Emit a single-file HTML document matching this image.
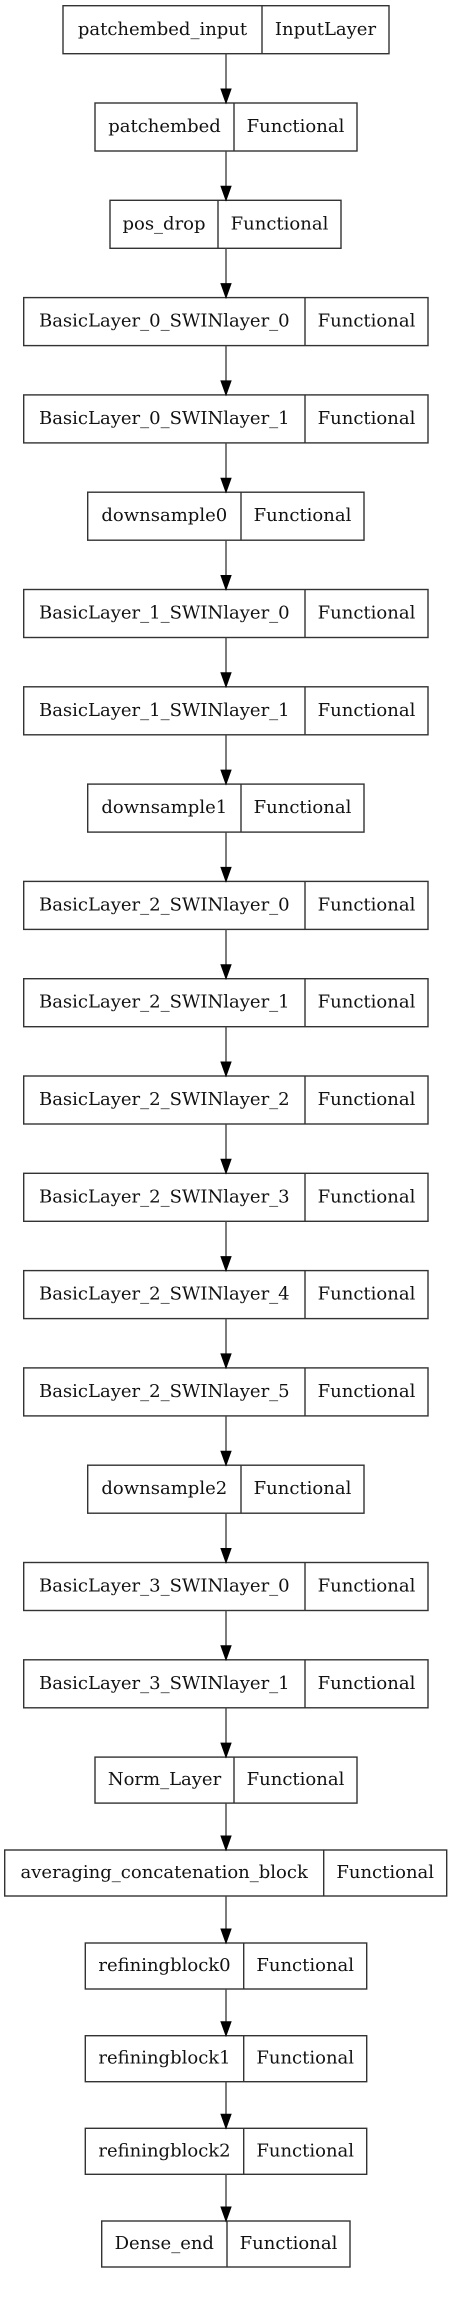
<!DOCTYPE html>
<html><head><meta charset="utf-8"><style>
html,body{margin:0;padding:0;background:#fff;}
svg{display:block;}
text{font-family:"DejaVu Serif","Liberation Serif",serif;font-size:18px;fill:#111;text-anchor:middle;}
rect{fill:#fff;stroke:#333;stroke-width:1.4;}
.d{stroke:#333;stroke-width:1.4;}
.a{stroke:#444;stroke-width:1.4;}
polygon{fill:#000;stroke:#000;stroke-width:1;}
</style></head><body>
<svg width="452" height="2299" viewBox="0 0 452 2299" xmlns="http://www.w3.org/2000/svg">
<g id="boxes">
<rect x="63" y="5.7" width="326" height="48"/><line class="d" x1="262" y1="5.7" x2="262" y2="53.7"/><text x="162.5" y="35">patchembed_input</text><text x="325.5" y="35">InputLayer</text>
<rect x="95" y="103" width="262" height="48"/><line class="d" x1="234" y1="103" x2="234" y2="151"/><text x="164.5" y="132">patchembed</text><text x="295.5" y="132">Functional</text>
<rect x="110" y="200.3" width="231" height="48"/><line class="d" x1="218" y1="200.3" x2="218" y2="248.3"/><text x="164" y="229.3">pos_drop</text><text x="279.5" y="229.3">Functional</text>
<rect x="23.7" y="297.6" width="404.3" height="48"/><line class="d" x1="305" y1="297.6" x2="305" y2="345.6"/><text x="164.3" y="326.6">BasicLayer_0_SWINlayer_0</text><text x="366.5" y="326.6">Functional</text>
<rect x="23.7" y="394.9" width="404.3" height="48"/><line class="d" x1="305" y1="394.9" x2="305" y2="442.9"/><text x="164.3" y="423.9">BasicLayer_0_SWINlayer_1</text><text x="366.5" y="423.9">Functional</text>
<rect x="87.7" y="492.2" width="276.3" height="48"/><line class="d" x1="241" y1="492.2" x2="241" y2="540.2"/><text x="164.3" y="521.2">downsample0</text><text x="302.5" y="521.2">Functional</text>
<rect x="23.7" y="589.5" width="404.3" height="48"/><line class="d" x1="305" y1="589.5" x2="305" y2="637.5"/><text x="164.3" y="618.5">BasicLayer_1_SWINlayer_0</text><text x="366.5" y="618.5">Functional</text>
<rect x="23.7" y="686.8" width="404.3" height="48"/><line class="d" x1="305" y1="686.8" x2="305" y2="734.8"/><text x="164.3" y="715.8">BasicLayer_1_SWINlayer_1</text><text x="366.5" y="715.8">Functional</text>
<rect x="87.7" y="784.1" width="276.3" height="48"/><line class="d" x1="241" y1="784.1" x2="241" y2="832.1"/><text x="164.3" y="813.1">downsample1</text><text x="302.5" y="813.1">Functional</text>
<rect x="23.7" y="881.4" width="404.3" height="48"/><line class="d" x1="305" y1="881.4" x2="305" y2="929.4"/><text x="164.3" y="910.4">BasicLayer_2_SWINlayer_0</text><text x="366.5" y="910.4">Functional</text>
<rect x="23.7" y="978.7" width="404.3" height="48"/><line class="d" x1="305" y1="978.7" x2="305" y2="1026.7"/><text x="164.3" y="1007.7">BasicLayer_2_SWINlayer_1</text><text x="366.5" y="1007.7">Functional</text>
<rect x="23.7" y="1076" width="404.3" height="48"/><line class="d" x1="305" y1="1076" x2="305" y2="1124"/><text x="164.3" y="1105">BasicLayer_2_SWINlayer_2</text><text x="366.5" y="1105">Functional</text>
<rect x="23.7" y="1173.3" width="404.3" height="48"/><line class="d" x1="305" y1="1173.3" x2="305" y2="1221.3"/><text x="164.3" y="1202.3">BasicLayer_2_SWINlayer_3</text><text x="366.5" y="1202.3">Functional</text>
<rect x="23.7" y="1270.6" width="404.3" height="48"/><line class="d" x1="305" y1="1270.6" x2="305" y2="1318.6"/><text x="164.3" y="1299.6">BasicLayer_2_SWINlayer_4</text><text x="366.5" y="1299.6">Functional</text>
<rect x="23.7" y="1367.9" width="404.3" height="48"/><line class="d" x1="305" y1="1367.9" x2="305" y2="1415.9"/><text x="164.3" y="1396.9">BasicLayer_2_SWINlayer_5</text><text x="366.5" y="1396.9">Functional</text>
<rect x="87.7" y="1465.2" width="276.3" height="48"/><line class="d" x1="241" y1="1465.2" x2="241" y2="1513.2"/><text x="164.3" y="1494.2">downsample2</text><text x="302.5" y="1494.2">Functional</text>
<rect x="23.7" y="1562.5" width="404.3" height="48"/><line class="d" x1="305" y1="1562.5" x2="305" y2="1610.5"/><text x="164.3" y="1591.5">BasicLayer_3_SWINlayer_0</text><text x="366.5" y="1591.5">Functional</text>
<rect x="23.7" y="1659.8" width="404.3" height="48"/><line class="d" x1="305" y1="1659.8" x2="305" y2="1707.8"/><text x="164.3" y="1688.8">BasicLayer_3_SWINlayer_1</text><text x="366.5" y="1688.8">Functional</text>
<rect x="95" y="1757.1" width="262" height="46"/><line class="d" x1="234" y1="1757.1" x2="234" y2="1803.1"/><text x="164.5" y="1785">Norm_Layer</text><text x="295.5" y="1785">Functional</text>
<rect x="4.7" y="1850" width="442" height="46"/><line class="d" x1="323.7" y1="1850" x2="323.7" y2="1896"/><text x="164.2" y="1878">averaging_concatenation_block</text><text x="385.2" y="1878">Functional</text>
<rect x="85.3" y="1943" width="281.4" height="46"/><line class="d" x1="243.7" y1="1943" x2="243.7" y2="1989"/><text x="164.5" y="1971">refiningblock0</text><text x="305.2" y="1971">Functional</text>
<rect x="85.3" y="2035.7" width="281.4" height="46"/><line class="d" x1="243.7" y1="2035.7" x2="243.7" y2="2081.7"/><text x="164.5" y="2063.7">refiningblock1</text><text x="305.2" y="2063.7">Functional</text>
<rect x="85.3" y="2128.3" width="281.4" height="46"/><line class="d" x1="243.7" y1="2128.3" x2="243.7" y2="2174.3"/><text x="164.5" y="2156.3">refiningblock2</text><text x="305.2" y="2156.3">Functional</text>
<rect x="101.7" y="2221" width="248.3" height="46"/><line class="d" x1="227" y1="2221" x2="227" y2="2267"/><text x="164.3" y="2249">Dense_end</text><text x="288.5" y="2249">Functional</text>
</g>
<g id="arrows">
<line class="a" x1="226" y1="53.7" x2="226" y2="89"/><polygon points="221,89 231,89 226,103"/>
<line class="a" x1="226" y1="151" x2="226" y2="186.3"/><polygon points="221,186.3 231,186.3 226,200.3"/>
<line class="a" x1="226" y1="248.3" x2="226" y2="283.6"/><polygon points="221,283.6 231,283.6 226,297.6"/>
<line class="a" x1="226" y1="345.6" x2="226" y2="380.9"/><polygon points="221,380.9 231,380.9 226,394.9"/>
<line class="a" x1="226" y1="442.9" x2="226" y2="478.2"/><polygon points="221,478.2 231,478.2 226,492.2"/>
<line class="a" x1="226" y1="540.2" x2="226" y2="575.5"/><polygon points="221,575.5 231,575.5 226,589.5"/>
<line class="a" x1="226" y1="637.5" x2="226" y2="672.8"/><polygon points="221,672.8 231,672.8 226,686.8"/>
<line class="a" x1="226" y1="734.8" x2="226" y2="770.1"/><polygon points="221,770.1 231,770.1 226,784.1"/>
<line class="a" x1="226" y1="832.1" x2="226" y2="867.4"/><polygon points="221,867.4 231,867.4 226,881.4"/>
<line class="a" x1="226" y1="929.4" x2="226" y2="964.7"/><polygon points="221,964.7 231,964.7 226,978.7"/>
<line class="a" x1="226" y1="1026.7" x2="226" y2="1062"/><polygon points="221,1062 231,1062 226,1076"/>
<line class="a" x1="226" y1="1124" x2="226" y2="1159.3"/><polygon points="221,1159.3 231,1159.3 226,1173.3"/>
<line class="a" x1="226" y1="1221.3" x2="226" y2="1256.6"/><polygon points="221,1256.6 231,1256.6 226,1270.6"/>
<line class="a" x1="226" y1="1318.6" x2="226" y2="1353.9"/><polygon points="221,1353.9 231,1353.9 226,1367.9"/>
<line class="a" x1="226" y1="1415.9" x2="226" y2="1451.2"/><polygon points="221,1451.2 231,1451.2 226,1465.2"/>
<line class="a" x1="226" y1="1513.2" x2="226" y2="1548.5"/><polygon points="221,1548.5 231,1548.5 226,1562.5"/>
<line class="a" x1="226" y1="1610.5" x2="226" y2="1645.8"/><polygon points="221,1645.8 231,1645.8 226,1659.8"/>
<line class="a" x1="226" y1="1707.8" x2="226" y2="1743.1"/><polygon points="221,1743.1 231,1743.1 226,1757.1"/>
<line class="a" x1="226" y1="1803.1" x2="226" y2="1836"/><polygon points="221,1836 231,1836 226,1850"/>
<line class="a" x1="226" y1="1896" x2="226" y2="1929"/><polygon points="221,1929 231,1929 226,1943"/>
<line class="a" x1="226" y1="1989" x2="226" y2="2021.7"/><polygon points="221,2021.7 231,2021.7 226,2035.7"/>
<line class="a" x1="226" y1="2081.7" x2="226" y2="2114.3"/><polygon points="221,2114.3 231,2114.3 226,2128.3"/>
<line class="a" x1="226" y1="2174.3" x2="226" y2="2207"/><polygon points="221,2207 231,2207 226,2221"/>
</g>
</svg>
</body></html>
